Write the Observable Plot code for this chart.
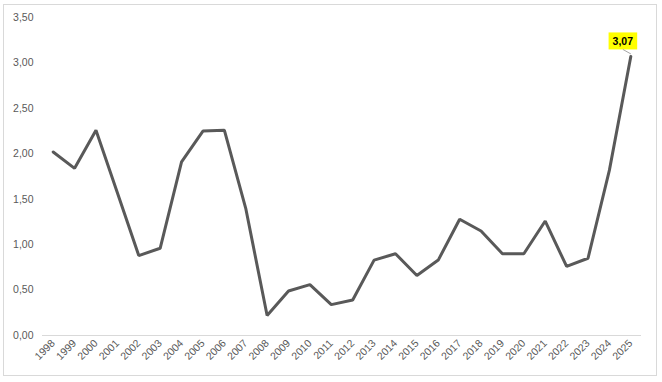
<!DOCTYPE html>
<html>
<head>
<meta charset="utf-8">
<script src="https://cdn.jsdelivr.net/npm/d3@7"></script>
<script src="https://cdn.jsdelivr.net/npm/@observablehq/plot@0.6"></script>
<style>
  html, body { margin: 0; padding: 0; background: #fff; }
  #frame { position: absolute; left: 3px; top: 4px; width: 652px; height: 370px; border: 1px solid #d9d9d9; background: #fff; }
  svg { font-family: "Liberation Sans", Arial, sans-serif; }
</style>
</head>
<body>
<div id="frame"></div>
<script>
const years = [1998,1999,2000,2001,2002,2003,2004,2005,2006,2007,2008,2009,2010,2011,2012,2013,2014,2015,2016,2017,2018,2019,2020,2021,2022,2023,2024,2025];
const values = [2.02,1.84,2.26,1.57,0.88,0.96,1.91,2.25,2.26,1.40,0.22,0.49,0.56,0.34,0.39,0.83,0.90,0.66,0.83,1.28,1.15,0.90,0.90,1.26,0.76,0.85,1.82,3.07];
const yTicks = [0,0.5,1,1.5,2,2.5,3,3.5];
const highlightYear = 2025;

const data = years.map((y, i) => ({year: y, value: values[i]}));
const fmt = v => v.toFixed(2).replace(".", ",");
const last = data.filter(d => d.year === highlightYear);

const chart = Plot.plot({
  width: 652,
  height: 370,
  marginLeft: 38,
  marginRight: 15,
  marginTop: 12,
  marginBottom: 40,
  style: {fontSize: "10.5px", color: "#595959", background: "#fff"},
  x: {domain: [years[0] - 0.5, years[years.length - 1] + 0.5], label: null},
  y: {domain: [0, 3.5], label: null},
  marks: [
    Plot.ruleY([0], {stroke: "#d9d9d9", strokeWidth: 1}),
    Plot.axisY({ticks: yTicks, tickFormat: fmt, tickSize: 0, tickPadding: 9, label: null, fill: "#595959"}),
    Plot.axisX({ticks: years, tickFormat: d => String(d), tickSize: 0, tickRotate: -45, tickPadding: 6, label: null, fill: "#595959"}),
    Plot.line(data, {x: "year", y: "value", stroke: "#595959", strokeWidth: 3, strokeLinejoin: "miter"}),
    Plot.text(last, {x: "year", y: "value", text: d => fmt(d.value), dx: -8, dy: -15, fill: "#000", fontWeight: "bold", className: "hl-label"})
  ]
});
document.getElementById("frame").appendChild(chart);

// yellow background + leader line for the highlighted label
const t = chart.querySelector("g.hl-label text");
if (t) {
  const bb = t.getBBox();
  const ns = "http://www.w3.org/2000/svg";
  const tr = t.getAttribute("transform");
  const r = document.createElementNS(ns, "rect");
  r.setAttribute("x", bb.x - 4);
  r.setAttribute("y", bb.y - 2.5);
  r.setAttribute("width", bb.width + 8);
  r.setAttribute("height", bb.height + 5);
  r.setAttribute("fill", "#ffff00");
  if (tr) r.setAttribute("transform", tr);
  t.parentNode.insertBefore(r, t);
  const l = document.createElementNS(ns, "line");
  l.setAttribute("x1", bb.x + bb.width / 2);
  l.setAttribute("y1", bb.y + bb.height + 2.5);
  l.setAttribute("x2", bb.x + bb.width / 2 + 8);
  l.setAttribute("y2", bb.y + bb.height + 7);
  l.setAttribute("stroke", "#a6a6a6");
  l.setAttribute("stroke-width", 1);
  if (tr) l.setAttribute("transform", tr);
  t.parentNode.insertBefore(l, t);
}
</script>
</body>
</html>
